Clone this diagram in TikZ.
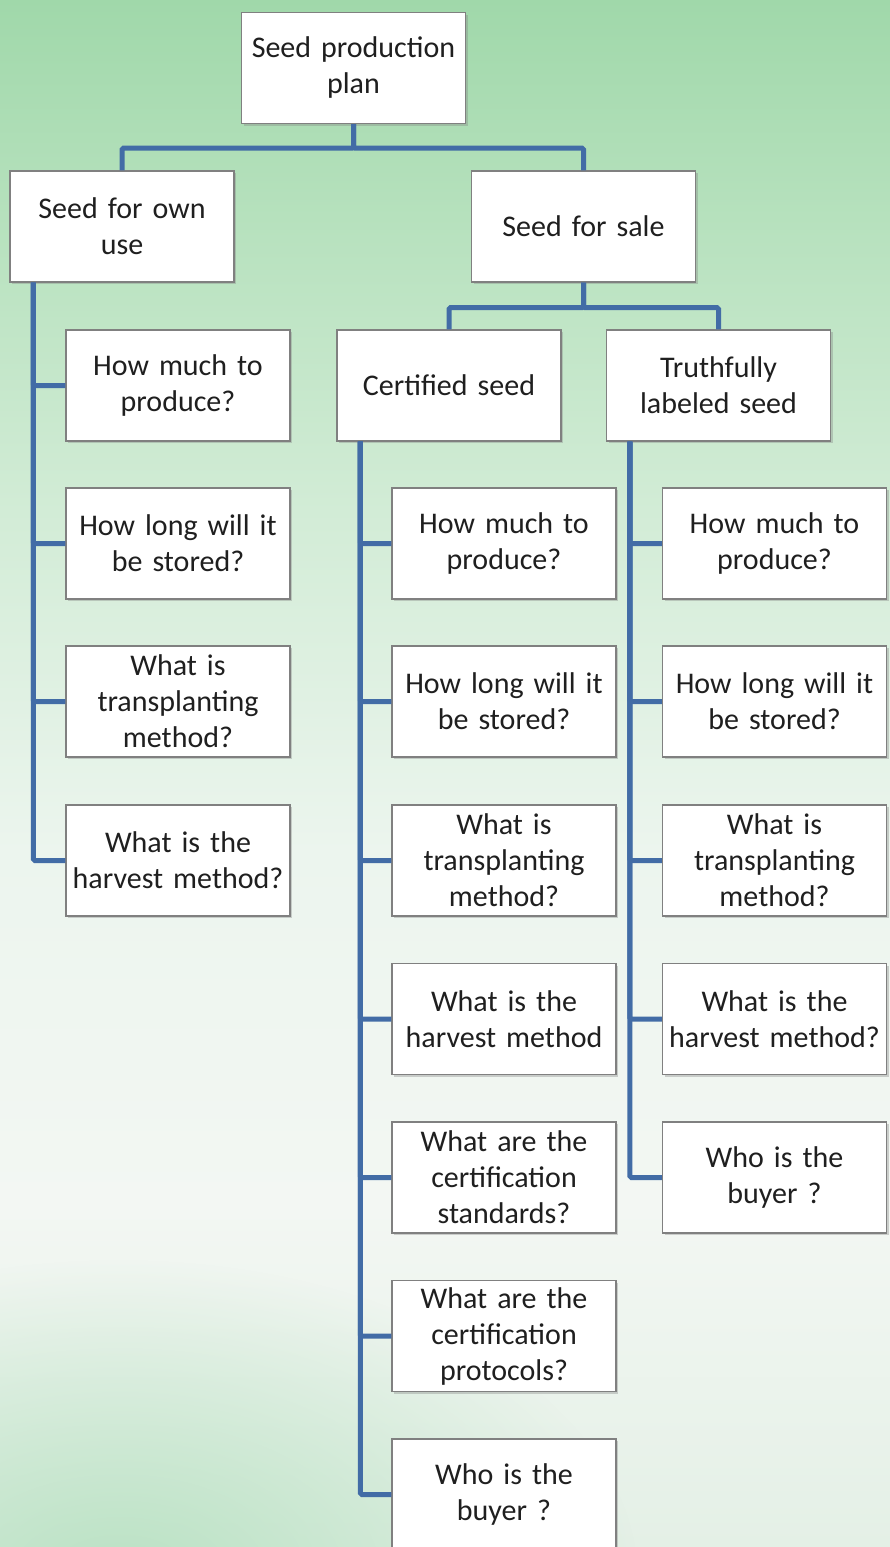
\documentclass[tikz,border=0pt]{standalone}
\usepackage{fontspec}
\setmainfont{Carlito}
\usepackage{xcolor}
\usepackage{tikz}
\usetikzlibrary{shadows,fadings}

\definecolor{linkblue}{RGB}{66,108,166}
\definecolor{bgtop}{RGB}{160,216,170}
\definecolor{bghigh}{RGB}{182,225,189}
\definecolor{bgupper}{RGB}{210,236,214}
\definecolor{bgmid}{RGB}{236,245,238}
\definecolor{bglow}{RGB}{243,247,243}
\definecolor{bgbot}{RGB}{228,240,230}
\definecolor{bgleaf}{RGB}{186,226,196}

% the path is mapped onto the band 25bp..75bp
\pgfdeclareverticalshading{bgfall}{100bp}{color(0bp)=(bgbot); color(25bp)=(bgbot);
  color(36bp)=(bglow); color(47.5bp)=(bgmid); color(58.5bp)=(bgupper);
  color(68bp)=(bghigh); color(75bp)=(bgtop); color(100bp)=(bgtop)}
\tikzfading[name=softspot, inner color=transparent!0, outer color=transparent!100]

\begin{document}
\begin{tikzpicture}[
    x=1pt,
    y=-1pt,
    every node/.style={font=\fontsize{30}{36}\selectfont, text=black!88},
    qbox/.style={draw=black!50, line width=1.2pt, fill=white, inner xsep=3pt, inner ysep=0pt,
      text width=218pt, minimum height=111pt, align=center,
      drop shadow={shadow xshift=2pt, shadow yshift=-2pt, opacity=0.35}},
    link/.style={line width=5pt, draw=linkblue, rounded corners=1.5pt}
]
% background
\useasboundingbox (0,0) rectangle (890,1547);
\shade[shading=bgfall] (0,0) rectangle (890,1547);
\fill[bgleaf, path fading=softspot] (120,1580) ellipse (520 and 320);

% top levels
\node[qbox] (plan) at (353.5,68) {Seed production\\plan};
\node[qbox] (own) at (122,226.5) {Seed for own\\use};
\node[qbox] (sale) at (583.5,226.5) {Seed for sale};
\node[qbox] (cert) at (449,385.5) {Certified seed};
\node[qbox] (tls) at (718.5,385.5) {Truthfully\\labeled seed};

% seed for own use
\node[qbox] (a1) at (178,385.5) {How much to\\produce?};
\node[qbox] (a2) at (178,543.5) {How long will it\\be stored?};
\node[qbox] (a3) at (178,701.5) {What is\\transplanting\\method?};
\node[qbox] (a4) at (178,860.5) {What is the\\harvest method?};

% certified seed
\node[qbox] (c1) at (504,543.5) {How much to\\produce?};
\node[qbox] (c2) at (504,701.5) {How long will it\\be stored?};
\node[qbox] (c3) at (504,860.5) {What is\\transplanting\\method?};
\node[qbox] (c4) at (504,1019) {What is the\\harvest method};
\node[qbox] (c5) at (504,1177.5) {What are the\\certification\\standards?};
\node[qbox] (c6) at (504,1336) {What are the\\certification\\protocols?};
\node[qbox] (c7) at (504,1494.5) {Who is the\\buyer ?};

% truthfully labeled seed
\node[qbox] (t1) at (774.5,543.5) {How much to\\produce?};
\node[qbox] (t2) at (774.5,701.5) {How long will it\\be stored?};
\node[qbox] (t3) at (774.5,860.5) {What is\\transplanting\\method?};
\node[qbox] (t4) at (774.5,1019) {What is the\\harvest method?};
\node[qbox] (t5) at (774.5,1177.5) {Who is the\\buyer ?};

% connectors
\draw[link] (plan.south) -- ++(0,24) -| (own.north);
\draw[link] (plan.south) -- ++(0,24) -| (sale.north);
\draw[link] (sale.south) -- ++(0,25) -| (cert.north);
\draw[link] (sale.south) -- ++(0,25) -| (tls.north);

\foreach \n in {a1,a2,a3,a4}
  \draw[link] ([xshift=24pt]own.south west) |- (\n.west);
\foreach \n in {c1,c2,c3,c4,c5,c6,c7}
  \draw[link] ([xshift=24pt]cert.south west) |- (\n.west);
\foreach \n in {t1,t2,t3,t4,t5}
  \draw[link] ([xshift=24pt]tls.south west) |- (\n.west);
\end{tikzpicture}
\end{document}
